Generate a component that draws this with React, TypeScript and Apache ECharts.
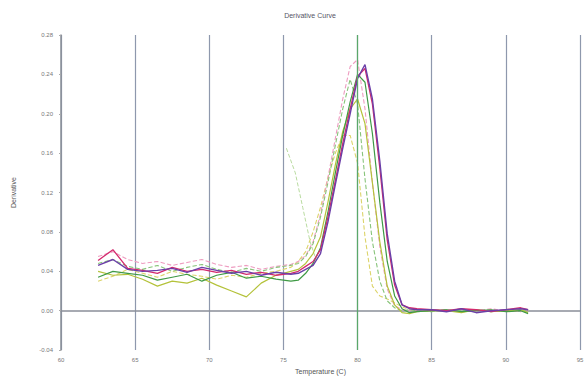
import React, { useEffect, useRef } from "react";
import * as echarts from "echarts";

const TITLE = "Derivative Curve";
const X_NAME = "Temperature (C)";
const Y_NAME = "Derivative";

const TEMPS = [62.5, 63.5, 64.5, 65.5, 66.5, 67.5, 68.5, 69.5, 70.5, 71.5, 72.5, 73.5, 74.5, 75.5,
  76, 76.5, 77, 77.5, 78, 78.5, 79, 79.5, 80, 80.5, 81, 81.5, 82, 82.5, 83, 83.5, 84,
  85, 86, 87, 88, 89, 90, 91, 91.5];

const PURPLE = [0.046, 0.052, 0.042, 0.040, 0.041, 0.043, 0.039, 0.044, 0.041, 0.038, 0.040, 0.036, 0.039, 0.037,
  0.038, 0.042, 0.046, 0.058, 0.090, 0.128, 0.165, 0.200, 0.236, 0.250, 0.215, 0.152, 0.078, 0.030, 0.006, 0.002, 0.001,
  0.001, -0.001, 0.002, -0.002, 0.000, 0.001, 0.002, 0.001];
const RED = [0.051, 0.062, 0.043, 0.041, 0.038, 0.044, 0.040, 0.042, 0.039, 0.041, 0.037, 0.039, 0.036, 0.038,
  0.040, 0.045, 0.050, 0.062, 0.095, 0.132, 0.170, 0.205, 0.238, 0.246, 0.210, 0.145, 0.072, 0.026, 0.006, 0.003, 0.002,
  0.001, 0.000, 0.002, 0.001, -0.001, 0.001, 0.003, 0.001];
const GREEN = [0.034, 0.040, 0.038, 0.036, 0.031, 0.034, 0.037, 0.030, 0.036, 0.039, 0.033, 0.035, 0.032, 0.030,
  0.031, 0.038, 0.048, 0.064, 0.100, 0.140, 0.178, 0.212, 0.240, 0.232, 0.180, 0.110, 0.050, 0.015, 0.002, -0.002, -0.001,
  0.000, 0.001, -0.001, 0.000, 0.001, -0.001, 0.000, -0.003];
const YELLOW = [0.040, 0.036, 0.037, 0.032, 0.025, 0.030, 0.028, 0.033, 0.026, 0.020, 0.014, 0.028, 0.036, 0.040,
  0.042, 0.048, 0.058, 0.075, 0.110, 0.148, 0.182, 0.205, 0.215, 0.190, 0.130, 0.070, 0.025, 0.006, -0.002, -0.003, -0.001,
  0.000, 0.000, -0.002, 0.001, -0.001, 0.000, 0.001, -0.002];
const DASH_YELLOW = [0.030, 0.035, 0.042, 0.038, 0.034, 0.040, 0.037, 0.035, 0.032, 0.036, 0.034, 0.038, 0.040, 0.044,
  0.050, 0.060, 0.080, 0.105, 0.135, 0.160, 0.178, 0.178, 0.150, 0.075, 0.025, 0.015, 0.012, 0.008, 0.004, 0.001, 0.000,
  0.001, 0.000, -0.001, 0.000, 0.001, -0.001, 0.000, 0.001];
const DASH_GREEN = [0.048, 0.052, 0.045, 0.042, 0.046, 0.040, 0.044, 0.047, 0.042, 0.039, 0.043, 0.040, 0.044, 0.046,
  0.048, 0.055, 0.068, 0.095, 0.130, 0.168, 0.205, 0.235, 0.210, 0.134, 0.070, 0.030, 0.010, 0.003, 0.000, 0.001, 0.000,
  -0.001, 0.001, 0.000, 0.001, -0.001, 0.000, 0.001, -0.001];
const DASH_PINK = [0.055, 0.060, 0.052, 0.048, 0.050, 0.046, 0.049, 0.052, 0.047, 0.044, 0.046, 0.042, 0.045, 0.047,
  0.050, 0.056, 0.070, 0.098, 0.135, 0.175, 0.215, 0.248, 0.255, 0.205, 0.130, 0.065, 0.022, 0.005, 0.001, 0.000, 0.001,
  0.000, 0.001, -0.001, 0.000, 0.002, 0.000, -0.001, 0.001];
const ARTIFACT_T = [75.2, 75.8, 76.3, 76.8, 77.2];
const ARTIFACT_V = [0.165, 0.140, 0.105, 0.070, 0.052];

const pairs = (xs: number[], ys: number[]) => xs.map((x, i) => [x, ys[i]]);

export default function App() {
  const ref = useRef<HTMLDivElement>(null);
  useEffect(() => {
    if (!ref.current) return;
    const chart = echarts.init(ref.current, null, { renderer: "svg" });
    const line = (name: string, ys: number[], color: string, dashed = false, width = 1.2, xs = TEMPS) => ({
      name,
      type: "line",
      data: pairs(xs, ys),
      showSymbol: false,
      symbol: "none",
      lineStyle: { color, width, type: dashed ? "dashed" : "solid" },
      silent: true,
    });
    chart.setOption({
      animation: false,
      backgroundColor: "#fff",
      title: {
        text: TITLE,
        left: 305,
        textAlign: "center",
        top: 7,
        textStyle: { fontSize: 7, color: "#556", fontWeight: "normal", fontFamily: "Liberation Sans" },
      },
      grid: { left: 61, right: 8, top: 35, bottom: 26, containLabel: false },
      xAxis: {
        type: "value",
        min: 60,
        max: 95,
        interval: 5,
        name: X_NAME,
        nameLocation: "middle",
        nameGap: 16,
        nameTextStyle: { fontSize: 7, color: "#555", fontFamily: "Liberation Sans" },
        axisLine: { lineStyle: { color: "#8a8f99", width: 1.5 } },
        axisTick: { show: false },
        axisLabel: { fontSize: 6, color: "#777", margin: 7, fontFamily: "Liberation Sans" },
        splitLine: { show: true, lineStyle: { color: "#8e98ad", width: 1.2 } },
      },
      yAxis: {
        type: "value",
        min: -0.04,
        max: 0.28,
        interval: 0.04,
        name: Y_NAME,
        nameLocation: "middle",
        nameGap: 44,
        nameTextStyle: { fontSize: 7, color: "#555", fontFamily: "Liberation Sans" },
        axisLine: { show: true, lineStyle: { color: "#8a8f99", width: 1.5 } },
        axisTick: { show: true, length: 2, lineStyle: { color: "#aaa" } },
        axisLabel: {
          fontSize: 6,
          color: "#777",
          margin: 8,
          fontFamily: "Liberation Sans",
          formatter: (v: number) => v.toFixed(2),
        },
        splitLine: { show: false },
      },
      series: [
        {
          ...line("Light dashed", ARTIFACT_V, "#b9dba0", true, 1, ARTIFACT_T),
        },
        line("Dashed yellow", DASH_YELLOW, "#dcd46a", true, 1.1),
        line("Dashed pink", DASH_PINK, "#ee9cc0", true, 1.1),
        line("Dashed green", DASH_GREEN, "#88c47a", true, 1.1),
        line("Yellow", YELLOW, "#b4c23a", false, 1.2),
        {
          ...line("Green", GREEN, "#3f9a45", false, 1.2),
          markLine: {
            silent: true,
            symbol: "none",
            label: { show: false },
            lineStyle: { color: "#5aa86a", type: "solid", width: 1.2 },
            data: [{ xAxis: 80 }],
          },
        },
        line("Red", RED, "#d42a6e", false, 1.3),
        line("Purple", PURPLE, "#6b3fa8", false, 1.4),
      ],
    });
    return () => chart.dispose();
  }, []);
  return <div ref={ref} style={{ position: "fixed", left: 0, top: 0, width: 588, height: 380 }} />;
}
